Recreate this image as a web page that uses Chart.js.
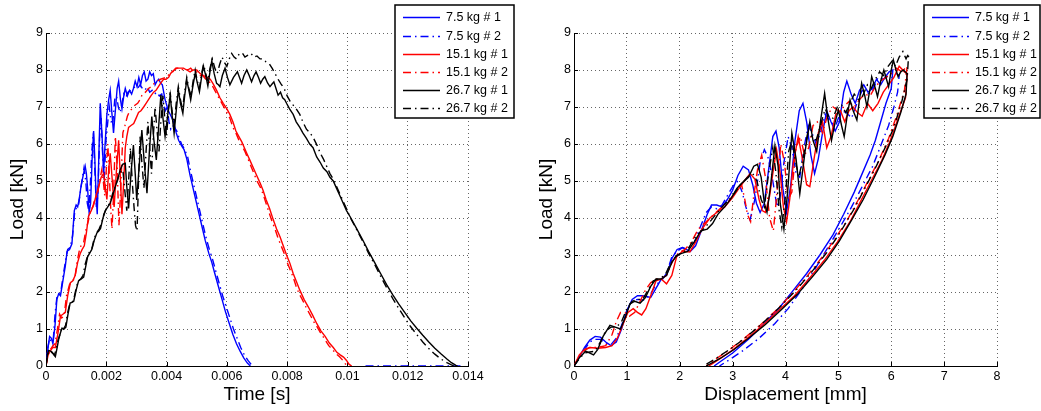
<!DOCTYPE html>
<html>
<head>
<meta charset="utf-8">
<script src="https://cdn.jsdelivr.net/npm/chart.js@4.4.1/dist/chart.umd.min.js"></script>
<style>
  body { margin: 0; background: #fff; }
  .wrap { display: flex; width: 1041px; height: 411px; }
  canvas { display: block; }
</style>
</head>
<body>
<div class="wrap">
  <canvas id="chartTime" width="520" height="411"></canvas>
  <canvas id="chartDisp" width="521" height="411"></canvas>
</div>
<script>
// tick positions
const timeTicks = [0, 0.002, 0.004, 0.006, 0.008, 0.01, 0.012, 0.014];
const dispTicks = [0, 1, 2, 3, 4, 5, 6, 7, 8];
const loadTicks = [0, 1, 2, 3, 4, 5, 6, 7, 8, 9];

const labels = ["7.5 kg # 1", "7.5 kg # 2", "15.1 kg # 1", "15.1 kg # 2", "26.7 kg # 1", "26.7 kg # 2"];
const colors = ["#0000ff", "#0000ff", "#ff0000", "#ff0000", "#000000", "#000000"];

// load vs time: [time in ms, load in kN]
const t75_1 = [[0,0],[0.06,0.45],[0.12,0.8],[0.18,0.75],[0.23,0.6],[0.3,1.1],[0.36,1.8],[0.42,1.95],[0.48,1.9],[0.56,2.3],[0.64,2.7],[0.7,3.1],[0.78,3.15],[0.86,3.3],[0.94,4.2],[1.0,4.35],[1.05,4.3],[1.1,4.5],[1.16,4.85],[1.22,5.1],[1.3,5.4],[1.34,5.2],[1.38,4.8],[1.43,4.15],[1.48,4.4],[1.53,5.6],[1.58,6.35],[1.62,5.6],[1.66,4.6],[1.7,4.1],[1.75,5.6],[1.8,7.1],[1.86,6.2],[1.91,5.2],[1.96,6.0],[2.02,6.8],[2.08,7.2],[2.13,7.45],[2.18,6.9],[2.24,6.3],[2.3,6.9],[2.36,7.5],[2.41,7.7],[2.47,7.2],[2.52,6.95],[2.58,7.3],[2.63,7.5],[2.7,7.3],[2.77,7.45],[2.84,7.35],[2.9,7.5],[2.96,7.7],[3.02,7.55],[3.08,7.8],[3.14,7.6],[3.2,7.85],[3.26,7.95],[3.32,7.7],[3.38,7.75],[3.44,7.95],[3.5,7.85],[3.56,7.9],[3.62,7.6],[3.68,7.7],[3.74,7.75],[3.8,7.65],[3.86,7.6],[3.95,7.2],[4.06,6.9],[4.15,6.75],[4.23,6.6],[4.32,6.3],[4.4,6.1],[4.5,5.95],[4.58,5.85],[4.67,5.6],[4.78,5.15],[4.88,4.8],[4.98,4.45],[5.08,4.1],[5.18,3.75],[5.28,3.4],[5.4,3.05],[5.5,2.8],[5.6,2.5],[5.72,2.15],[5.84,1.8],[5.96,1.45],[6.08,1.15],[6.2,0.85],[6.32,0.6],[6.44,0.4],[6.56,0.22],[6.68,0.08],[6.78,0]];
const t75_2 = [[0,0],[0.06,0.5],[0.12,0.75],[0.18,0.65],[0.24,0.7],[0.3,1.4],[0.36,1.85],[0.44,1.9],[0.5,2.05],[0.58,2.5],[0.66,2.9],[0.72,3.15],[0.8,3.2],[0.88,3.5],[0.95,4.15],[1.02,4.3],[1.08,4.35],[1.14,4.7],[1.2,5.05],[1.26,5.35],[1.32,5.0],[1.37,4.4],[1.42,4.2],[1.47,4.9],[1.52,5.8],[1.57,6.3],[1.62,5.3],[1.67,4.3],[1.72,4.6],[1.78,6.2],[1.83,6.7],[1.88,5.7],[1.93,5.0],[1.99,6.1],[2.05,6.6],[2.1,7.0],[2.16,6.6],[2.22,6.6],[2.28,7.2],[2.34,7.3],[2.4,7.0],[2.46,6.85],[2.52,7.1],[2.58,7.35],[2.65,7.25],[2.72,7.4],[2.8,7.45],[2.88,7.5],[2.96,7.55],[3.04,7.5],[3.12,7.6],[3.2,7.5],[3.28,7.45],[3.36,7.55],[3.44,7.4],[3.52,7.45],[3.6,7.35],[3.68,7.4],[3.76,7.3],[3.84,7.35],[3.9,7.1],[3.96,6.9],[4.02,7.0],[4.08,6.6],[4.14,6.4],[4.2,6.5],[4.26,6.45],[4.34,6.35],[4.42,6.15],[4.5,6.0],[4.6,5.85],[4.7,5.65],[4.8,5.25],[4.9,4.9],[5.0,4.55],[5.1,4.2],[5.2,3.85],[5.3,3.5],[5.42,3.15],[5.52,2.9],[5.62,2.6],[5.74,2.25],[5.86,1.9],[5.98,1.6],[6.1,1.3],[6.22,1.0],[6.34,0.75],[6.46,0.5],[6.58,0.3],[6.7,0.15],[6.8,0.05],[6.88,0],[8.5,null],[10.6,0],[13.75,0]];
const t151_1 = [[0,0],[0.07,0.3],[0.14,0.4],[0.22,0.5],[0.31,0.5],[0.4,0.9],[0.48,1.35],[0.56,1.4],[0.64,1.45],[0.72,1.9],[0.81,2.25],[0.89,2.3],[0.97,2.45],[1.05,2.8],[1.14,3.05],[1.2,3.15],[1.27,3.25],[1.34,3.6],[1.41,4.05],[1.5,4.2],[1.58,4.35],[1.66,4.6],[1.75,4.85],[1.83,5.1],[1.91,5.2],[1.97,4.8],[2.02,4.5],[2.08,5.3],[2.13,5.75],[2.2,5.0],[2.26,4.3],[2.33,5.2],[2.41,6.1],[2.46,5.2],[2.52,4.1],[2.58,5.0],[2.63,5.9],[2.68,6.2],[2.74,6.45],[2.82,6.5],[2.91,6.55],[2.99,6.7],[3.07,6.85],[3.15,6.9],[3.24,7.0],[3.32,7.1],[3.4,7.2],[3.48,7.3],[3.57,7.4],[3.65,7.45],[3.73,7.55],[3.81,7.65],[3.9,7.75],[3.98,7.75],[4.07,7.8],[4.13,7.9],[4.18,7.95],[4.26,8.0],[4.34,8.05],[4.45,8.05],[4.56,8.05],[4.67,8.0],[4.78,7.95],[4.89,8.0],[5.0,8.0],[5.12,7.9],[5.23,7.85],[5.34,7.8],[5.45,7.75],[5.55,7.62],[5.66,7.45],[5.77,7.25],[5.88,7.1],[6.0,6.95],[6.1,6.8],[6.2,6.6],[6.3,6.35],[6.4,6.2],[6.5,6.05],[6.58,5.9],[6.66,5.75],[6.77,5.55],[6.88,5.35],[6.99,5.15],[7.1,4.95],[7.2,4.75],[7.3,4.5],[7.42,4.25],[7.54,3.95],[7.65,3.7],[7.76,3.5],[7.87,3.25],[7.98,3.0],[8.09,2.78],[8.2,2.5],[8.31,2.28],[8.42,2.05],[8.56,1.8],[8.7,1.6],[8.84,1.38],[8.98,1.15],[9.12,0.95],[9.26,0.8],[9.4,0.62],[9.53,0.5],[9.65,0.37],[9.76,0.3],[9.87,0.24],[9.97,0.15],[10.05,0.05],[10.14,0]];
const t151_2 = [[0,0],[0.07,0.35],[0.15,0.45],[0.23,0.55],[0.3,0.6],[0.38,1.0],[0.45,1.4],[0.52,1.3],[0.6,1.35],[0.68,1.9],[0.78,2.2],[0.86,2.3],[0.95,2.35],[1.03,2.8],[1.1,3.1],[1.18,3.3],[1.25,3.35],[1.33,3.7],[1.4,3.9],[1.48,4.2],[1.55,4.3],[1.62,4.5],[1.7,4.6],[1.78,5.0],[1.85,5.3],[1.9,5.0],[1.95,4.6],[2.0,5.3],[2.05,6.0],[2.1,5.2],[2.15,4.2],[2.19,3.7],[2.24,4.6],[2.3,6.2],[2.36,5.4],[2.42,3.8],[2.48,4.8],[2.55,6.3],[2.62,6.5],[2.7,6.75],[2.78,6.9],[2.86,6.95],[2.95,7.05],[3.04,7.1],[3.12,7.2],[3.2,7.35],[3.3,7.4],[3.4,7.5],[3.5,7.55],[3.6,7.65],[3.7,7.7],[3.8,7.75],[3.9,7.78],[4.0,7.8],[4.1,7.9],[4.2,7.95],[4.3,8.05],[4.4,8.05],[4.5,8.0],[4.6,8.05],[4.7,8.0],[4.8,8.05],[4.9,7.95],[5.0,7.95],[5.1,7.85],[5.2,7.85],[5.3,7.75],[5.4,7.7],[5.5,7.6],[5.6,7.45],[5.7,7.3],[5.8,7.15],[5.9,7.0],[6.0,6.85],[6.1,6.7],[6.2,6.45],[6.3,6.3],[6.4,6.1],[6.5,5.95],[6.6,5.8],[6.7,5.6],[6.8,5.4],[6.9,5.2],[7.0,5.0],[7.1,4.85],[7.2,4.65],[7.3,4.4],[7.4,4.15],[7.5,3.9],[7.6,3.7],[7.7,3.45],[7.8,3.25],[7.9,3.05],[8.0,2.8],[8.1,2.6],[8.2,2.4],[8.3,2.15],[8.4,1.95],[8.5,1.8],[8.62,1.6],[8.75,1.4],[8.88,1.2],[9.0,1.05],[9.12,0.88],[9.25,0.72],[9.38,0.55],[9.5,0.45],[9.62,0.33],[9.74,0.25],[9.85,0.15],[9.93,0.06],[10.0,0]];
const t267_1 = [[0,0],[0.05,0.3],[0.09,0.42],[0.15,0.4],[0.2,0.38],[0.26,0.3],[0.31,0.25],[0.37,0.5],[0.42,0.72],[0.48,0.9],[0.53,1.02],[0.6,1.0],[0.66,1.05],[0.73,1.4],[0.8,1.7],[0.86,1.72],[0.92,1.75],[1.0,2.05],[1.08,2.3],[1.16,2.35],[1.25,2.4],[1.32,2.7],[1.38,2.95],[1.45,3.05],[1.52,3.15],[1.6,3.4],[1.69,3.6],[1.75,3.65],[1.81,3.72],[1.89,4.0],[1.97,4.2],[2.05,4.3],[2.13,4.4],[2.21,4.6],[2.3,4.85],[2.38,5.05],[2.46,5.3],[2.54,5.45],[2.63,5.48],[2.68,4.85],[2.74,4.26],[2.82,5.2],[2.9,5.97],[2.96,5.2],[3.01,4.49],[3.1,5.5],[3.18,6.38],[3.26,5.5],[3.35,4.67],[3.43,5.8],[3.51,6.74],[3.58,6.1],[3.66,5.57],[3.74,6.5],[3.81,7.32],[3.88,6.7],[3.95,6.2],[4.04,6.8],[4.12,7.32],[4.18,6.8],[4.25,6.29],[4.32,6.9],[4.39,7.46],[4.46,7.1],[4.54,6.83],[4.6,7.3],[4.67,7.73],[4.74,7.45],[4.8,7.19],[4.88,7.6],[4.95,7.91],[5.02,7.65],[5.09,7.41],[5.16,7.8],[5.22,8.11],[5.3,7.85],[5.37,7.57],[5.44,7.95],[5.5,8.25],[5.58,7.9],[5.66,7.64],[5.72,7.6],[5.77,7.55],[5.85,7.85],[5.94,8.05],[6.02,7.8],[6.1,7.6],[6.22,7.8],[6.35,7.95],[6.42,7.8],[6.49,7.64],[6.57,7.85],[6.66,8.0],[6.74,7.85],[6.82,7.68],[6.9,7.85],[6.97,7.95],[7.05,7.8],[7.12,7.64],[7.19,7.75],[7.26,7.82],[7.35,7.65],[7.43,7.55],[7.5,7.62],[7.56,7.68],[7.63,7.5],[7.7,7.32],[7.78,7.4],[7.85,7.25],[7.92,7.2],[7.98,7.1],[8.08,6.95],[8.2,6.8],[8.3,6.6],[8.42,6.45],[8.52,6.3],[8.64,6.15],[8.75,6.0],[8.86,5.9],[8.98,5.65],[9.1,5.5],[9.2,5.35],[9.32,5.25],[9.42,5.1],[9.53,5.0],[9.64,4.8],[9.75,4.6],[9.86,4.4],[9.97,4.2],[10.1,4.02],[10.3,3.72],[10.5,3.42],[10.7,3.1],[10.9,2.8],[11.1,2.5],[11.3,2.2],[11.5,1.93],[11.7,1.68],[11.9,1.45],[12.1,1.22],[12.3,1.02],[12.5,0.83],[12.7,0.65],[12.9,0.48],[13.1,0.33],[13.3,0.19],[13.45,0.09],[13.6,0.02],[13.65,0]];
const t267_2 = [[0,0],[0.05,0.3],[0.1,0.4],[0.16,0.38],[0.22,0.35],[0.28,0.3],[0.34,0.45],[0.4,0.7],[0.46,0.85],[0.52,1.05],[0.58,1.0],[0.65,1.1],[0.72,1.45],[0.78,1.65],[0.85,1.7],[0.92,1.8],[1.0,2.1],[1.07,2.3],[1.15,2.35],[1.23,2.45],[1.3,2.75],[1.37,2.95],[1.45,3.1],[1.53,3.2],[1.6,3.45],[1.68,3.6],[1.76,3.7],[1.84,3.85],[1.92,4.1],[2.0,4.25],[2.08,4.35],[2.16,4.5],[2.24,4.75],[2.32,4.9],[2.4,5.1],[2.48,5.25],[2.55,5.3],[2.62,4.7],[2.68,4.2],[2.74,5.0],[2.8,5.9],[2.86,5.0],[2.92,4.3],[2.97,3.8],[3.02,3.65],[3.07,5.0],[3.12,6.2],[3.18,5.5],[3.25,4.8],[3.32,5.8],[3.38,6.6],[3.44,5.9],[3.5,5.2],[3.56,6.2],[3.62,7.0],[3.68,6.4],[3.75,5.8],[3.81,6.6],[3.88,7.3],[3.94,6.7],[4.0,6.2],[4.06,6.9],[4.12,7.4],[4.18,6.9],[4.25,6.5],[4.32,7.1],[4.39,7.55],[4.46,7.2],[4.53,6.95],[4.6,7.4],[4.67,7.8],[4.74,7.5],[4.81,7.3],[4.88,7.7],[4.95,8.0],[5.02,7.7],[5.09,7.5],[5.16,7.9],[5.23,8.15],[5.3,7.9],[5.37,7.7],[5.44,8.05],[5.52,8.3],[5.6,8.05],[5.68,7.9],[5.76,8.15],[5.84,8.35],[5.92,8.2],[6.0,8.1],[6.08,8.3],[6.16,8.45],[6.24,8.35],[6.32,8.3],[6.42,8.45],[6.52,8.45],[6.6,8.35],[6.7,8.4],[6.8,8.45],[6.9,8.35],[7.0,8.38],[7.1,8.3],[7.2,8.3],[7.3,8.22],[7.4,8.18],[7.5,8.05],[7.6,7.9],[7.7,7.75],[7.8,7.62],[7.9,7.5],[8.0,7.3],[8.1,7.15],[8.2,7.05],[8.3,6.95],[8.42,6.8],[8.52,6.6],[8.64,6.4],[8.76,6.3],[8.88,6.15],[9.0,5.95],[9.1,5.75],[9.2,5.6],[9.31,5.4],[9.42,5.2],[9.53,5.05],[9.64,4.85],[9.75,4.65],[9.86,4.45],[9.97,4.25],[10.1,4.0],[10.3,3.7],[10.5,3.38],[10.7,3.05],[10.9,2.75],[11.1,2.43],[11.3,2.12],[11.5,1.83],[11.7,1.56],[11.9,1.3],[12.1,1.06],[12.3,0.85],[12.5,0.65],[12.7,0.47],[12.9,0.32],[13.1,0.19],[13.3,0.09],[13.45,0.03],[13.55,0]];

// load vs displacement: [displacement in mm, load in kN], loading then unloading
const d75_1 = [[0,0],[0.1,0.25],[0.2,0.5],[0.3,0.7],[0.4,0.8],[0.5,0.78],[0.6,0.65],[0.7,0.55],[0.8,0.65],[0.9,1.0],[1.0,1.5],[1.1,1.8],[1.2,1.9],[1.3,1.9],[1.45,1.85],[1.55,2.1],[1.65,2.35],[1.75,2.45],[1.85,2.9],[1.95,3.15],[2.05,3.2],[2.2,3.1],[2.3,3.25],[2.42,3.7],[2.52,4.1],[2.6,4.35],[2.7,4.35],[2.8,4.3],[2.9,4.5],[3.0,4.75],[3.1,5.15],[3.2,5.4],[3.3,5.3],[3.38,4.9],[3.45,4.4],[3.52,4.15],[3.6,4.4],[3.68,5.3],[3.76,6.2],[3.82,6.35],[3.88,5.9],[3.95,4.8],[4.02,4.15],[4.1,4.9],[4.18,6.1],[4.26,6.9],[4.33,7.1],[4.4,6.6],[4.48,5.7],[4.55,5.2],[4.62,5.6],[4.7,6.3],[4.78,6.9],[4.86,6.6],[4.94,6.35],[5.02,6.6],[5.1,7.4],[5.16,7.7],[5.24,7.35],[5.32,7.1],[5.4,7.45],[5.48,7.6],[5.56,7.4],[5.64,7.5],[5.72,7.75],[5.8,7.6],[5.88,7.8],[5.96,7.95],[6.03,8.0],[6.0,7.5],[5.9,7.1],[5.8,6.6],[5.7,6.1],[5.6,5.7],[5.45,5.2],[5.3,4.7],[5.1,4.1],[4.9,3.55],[4.65,3.0],[4.4,2.5],[4.15,2.05],[3.9,1.6],[3.6,1.15],[3.3,0.72],[3.0,0.35],[2.75,0.1],[2.65,0]];
const d75_2 = [[0,0],[0.1,0.22],[0.2,0.45],[0.3,0.65],[0.4,0.72],[0.5,0.72],[0.6,0.6],[0.7,0.58],[0.8,0.75],[0.9,1.1],[1.0,1.5],[1.1,1.75],[1.2,1.8],[1.32,1.78],[1.45,1.95],[1.55,2.2],[1.65,2.3],[1.75,2.5],[1.85,2.95],[1.95,3.1],[2.05,3.2],[2.15,3.15],[2.28,3.35],[2.4,3.8],[2.5,4.15],[2.6,4.3],[2.7,4.25],[2.8,4.35],[2.9,4.6],[3.0,4.85],[3.1,5.0],[3.18,4.7],[3.25,4.3],[3.33,3.95],[3.42,4.5],[3.52,5.5],[3.6,5.85],[3.68,5.6],[3.76,5.0],[3.84,4.3],[3.9,4.6],[3.97,5.5],[4.05,6.2],[4.12,5.9],[4.2,5.2],[4.27,5.1],[4.35,5.9],[4.43,6.5],[4.5,6.3],[4.58,6.0],[4.66,6.3],[4.75,6.8],[4.85,6.6],[4.95,6.5],[5.05,6.9],[5.15,6.85],[5.25,6.7],[5.35,7.1],[5.45,7.45],[5.55,7.35],[5.65,7.45],[5.75,7.8],[5.85,7.75],[5.95,7.85],[6.05,7.95],[6.15,7.85],[6.12,7.4],[6.05,7.0],[5.95,6.5],[5.8,5.95],[5.65,5.4],[5.45,4.85],[5.25,4.3],[5.05,3.8],[4.8,3.2],[4.55,2.6],[4.3,2.05],[4.05,1.55],[3.8,1.15],[3.5,0.75],[3.2,0.42],[2.95,0.18],[2.75,0]];
const d151_1 = [[0,0],[0.1,0.3],[0.2,0.45],[0.3,0.5],[0.45,0.48],[0.6,0.5],[0.72,0.55],[0.82,0.75],[0.92,1.1],[1.02,1.45],[1.12,1.55],[1.2,1.45],[1.28,1.38],[1.36,1.55],[1.45,1.9],[1.55,2.3],[1.65,2.35],[1.75,2.22],[1.85,2.45],[1.94,2.95],[2.05,3.1],[2.19,3.08],[2.3,3.35],[2.42,3.7],[2.57,4.0],[2.7,4.15],[2.85,4.3],[3.0,4.55],[3.12,4.8],[3.22,5.0],[3.33,5.2],[3.42,5.05],[3.5,4.5],[3.56,4.2],[3.62,4.15],[3.7,4.6],[3.77,5.3],[3.83,5.85],[3.9,5.2],[3.96,4.3],[4.02,3.9],[4.08,4.5],[4.15,5.5],[4.24,6.2],[4.32,5.6],[4.4,4.9],[4.46,4.85],[4.54,5.6],[4.62,6.3],[4.7,6.6],[4.78,5.9],[4.86,6.2],[4.95,6.8],[5.04,6.9],[5.12,6.6],[5.2,6.9],[5.28,7.0],[5.36,6.85],[5.45,6.75],[5.55,7.1],[5.65,6.9],[5.75,7.1],[5.85,7.4],[5.95,7.6],[6.05,7.8],[6.15,8.1],[6.25,7.95],[6.3,7.9],[6.27,7.25],[6.12,6.65],[5.97,6.05],[5.82,5.55],[5.62,5.0],[5.42,4.45],[5.22,3.9],[4.98,3.35],[4.73,2.85],[4.47,2.4],[4.17,1.9],[3.87,1.5],[3.57,1.1],[3.27,0.74],[2.97,0.4],[2.72,0.16],[2.55,0]];
const d151_2 = [[0,0],[0.1,0.25],[0.2,0.42],[0.3,0.5],[0.45,0.5],[0.6,0.55],[0.72,0.85],[0.8,1.2],[0.88,1.45],[0.96,1.45],[1.05,1.35],[1.15,1.45],[1.25,1.75],[1.35,2.05],[1.45,2.25],[1.55,2.35],[1.65,2.35],[1.75,2.45],[1.87,2.85],[1.97,3.05],[2.1,3.15],[2.22,3.35],[2.35,3.7],[2.5,3.9],[2.65,4.1],[2.8,4.3],[2.95,4.5],[3.08,4.75],[3.17,4.9],[3.23,4.5],[3.28,4.1],[3.34,3.9],[3.4,4.6],[3.47,5.3],[3.55,5.7],[3.62,5.1],[3.7,4.0],[3.77,3.65],[3.84,4.7],[3.91,6.0],[3.98,5.5],[4.05,4.5],[4.12,4.7],[4.2,5.9],[4.28,6.2],[4.36,5.7],[4.44,5.9],[4.52,6.5],[4.6,6.6],[4.7,6.3],[4.8,6.8],[4.9,7.0],[5.0,6.9],[5.1,7.0],[5.2,7.15],[5.3,7.0],[5.4,7.2],[5.5,7.35],[5.6,7.3],[5.7,7.55],[5.8,7.7],[5.9,7.8],[6.0,7.9],[6.1,8.05],[6.2,7.95],[6.3,8.1],[6.25,7.45],[6.1,6.75],[5.95,6.15],[5.78,5.6],[5.58,5.05],[5.38,4.5],[5.17,3.95],[4.92,3.4],[4.67,2.9],[4.42,2.45],[4.12,1.95],[3.82,1.5],[3.52,1.1],[3.22,0.75],[2.92,0.42],[2.67,0.18],[2.5,0]];
const d267_1 = [[0,0],[0.1,0.22],[0.22,0.4],[0.3,0.35],[0.37,0.3],[0.45,0.45],[0.55,0.8],[0.68,1.1],[0.78,1.05],[0.88,1.0],[0.98,1.35],[1.06,1.68],[1.15,1.75],[1.25,1.7],[1.35,1.85],[1.45,2.15],[1.55,2.35],[1.65,2.35],[1.75,2.45],[1.85,2.8],[1.95,3.0],[2.05,3.05],[2.15,3.1],[2.27,3.35],[2.4,3.65],[2.52,3.7],[2.62,3.85],[2.72,4.1],[2.85,4.3],[2.98,4.55],[3.08,4.8],[3.18,4.95],[3.3,5.1],[3.4,5.4],[3.47,5.45],[3.54,5.1],[3.6,4.4],[3.65,4.15],[3.72,4.9],[3.8,5.95],[3.86,5.4],[3.9,4.4],[3.97,3.7],[4.04,4.7],[4.12,6.3],[4.2,5.6],[4.27,4.65],[4.37,5.8],[4.46,6.6],[4.52,6.1],[4.59,5.8],[4.66,6.6],[4.74,7.37],[4.8,6.7],[4.87,6.1],[4.94,6.6],[5.0,6.92],[5.06,6.5],[5.11,6.2],[5.17,6.8],[5.22,7.19],[5.28,6.9],[5.35,6.65],[5.4,7.2],[5.44,7.64],[5.5,7.3],[5.54,7.01],[5.6,7.5],[5.63,7.82],[5.7,7.5],[5.74,7.28],[5.8,7.7],[5.86,8.0],[5.91,7.75],[5.95,7.55],[6.0,8.0],[6.04,8.27],[6.09,8.0],[6.13,7.82],[6.18,7.95],[6.23,8.0],[6.3,7.9],[6.28,7.35],[6.18,6.85],[6.03,6.2],[5.88,5.7],[5.68,5.1],[5.47,4.5],[5.26,3.97],[5.02,3.38],[4.78,2.88],[4.52,2.43],[4.22,1.93],[3.92,1.52],[3.62,1.12],[3.32,0.77],[3.02,0.44],[2.77,0.21],[2.5,0]];
const d267_2 = [[0,0],[0.1,0.2],[0.2,0.35],[0.3,0.38],[0.4,0.4],[0.5,0.65],[0.6,0.95],[0.7,1.05],[0.8,1.05],[0.9,1.2],[1.0,1.55],[1.1,1.75],[1.2,1.8],[1.3,1.8],[1.4,2.05],[1.5,2.3],[1.6,2.35],[1.72,2.45],[1.82,2.75],[1.92,2.95],[2.02,3.05],[2.15,3.15],[2.3,3.5],[2.45,3.7],[2.6,3.95],[2.8,4.3],[3.0,4.6],[3.15,4.9],[3.28,5.1],[3.38,5.2],[3.46,5.0],[3.54,4.5],[3.6,4.3],[3.68,5.2],[3.76,5.9],[3.82,5.2],[3.88,4.2],[3.93,3.75],[4.0,4.6],[4.06,5.8],[4.12,6.1],[4.18,5.6],[4.25,5.1],[4.33,5.6],[4.42,6.3],[4.5,6.2],[4.58,6.1],[4.66,6.5],[4.75,6.95],[4.83,6.7],[4.9,6.7],[4.98,7.0],[5.06,7.05],[5.14,6.85],[5.22,7.1],[5.3,7.35],[5.38,7.2],[5.46,7.3],[5.55,7.6],[5.62,7.5],[5.7,7.75],[5.78,7.95],[5.86,7.85],[5.94,8.1],[6.02,8.25],[6.08,8.1],[6.15,8.35],[6.22,8.5],[6.28,8.3],[6.33,8.45],[6.3,7.75],[6.2,7.15],[6.05,6.45],[5.9,5.95],[5.7,5.35],[5.5,4.8],[5.3,4.25],[5.05,3.65],[4.8,3.1],[4.5,2.55],[4.2,2.05],[3.9,1.6],[3.6,1.2],[3.3,0.83],[3.0,0.5],[2.7,0.22],[2.45,0]];

const timeSeries = [t75_1, t75_2, t151_1, t151_2, t267_1, t267_2];
const dispSeries = [d75_1, d75_2, d151_1, d151_2, d267_1, d267_2];

const FONT = '"Liberation Sans", Arial, Helvetica, sans-serif';
Chart.defaults.font.family = FONT;
Chart.defaults.color = "#000";

const LINE_W = 1.4;
const DASH_DOT = [8, 4, 1.5, 4];

// MATLAB-style boxed legend in the top right corner
const boxLegend = {
    id: "boxLegend",
    afterDraw(chart, args, o) {
        const ctx = chart.ctx;
        ctx.save();
        ctx.fillStyle = "#fff";
        ctx.fillRect(o.left, o.top, o.width, o.height);
        ctx.lineWidth = 1.5;
        ctx.strokeStyle = "#000";
        ctx.strokeRect(o.left, o.top, o.width, o.height);
        ctx.font = "12.5px " + FONT;
        ctx.textBaseline = "middle";
        labels.forEach((text, i) => {
            const y = Math.round(o.top + 12.3 + i * 18.2) + 0.5;
            ctx.beginPath();
            ctx.setLineDash(i % 2 ? DASH_DOT : []);
            ctx.strokeStyle = colors[i];
            ctx.lineWidth = LINE_W;
            ctx.moveTo(o.left + 8, y);
            ctx.lineTo(o.left + 45, y);
            ctx.stroke();
            ctx.setLineDash([]);
            ctx.fillStyle = "#000";
            ctx.fillText(text, o.left + 51, y + 0.5);
        });
        ctx.restore();
    },
};

// short tick marks pointing into the plot area
const innerTicks = {
    id: "innerTicks",
    beforeDatasetsDraw(chart) {
        const { ctx, chartArea: a, scales: { x, y } } = chart;
        ctx.save();
        ctx.strokeStyle = "#000";
        ctx.lineWidth = 1;
        ctx.beginPath();
        x.ticks.forEach(t => {
            const px = Math.round(x.getPixelForValue(t.value)) + 0.5;
            ctx.moveTo(px, a.bottom);
            ctx.lineTo(px, a.bottom - 4);
        });
        y.ticks.forEach(t => {
            const py = Math.round(y.getPixelForValue(t.value)) + 0.5;
            ctx.moveTo(a.left, py);
            ctx.lineTo(a.left + 4, py);
        });
        ctx.stroke();
        ctx.restore();
    },
};

function makeDatasets(series, xScale) {
    return series.map((arr, i) => ({
        label: labels[i],
        data: arr.map(([x, y]) => ({ x: x * xScale, y })),
        borderColor: colors[i],
        backgroundColor: colors[i],
        borderWidth: LINE_W,
        borderDash: i % 2 ? DASH_DOT : [],
        pointRadius: 0,
        showLine: true,
        tension: 0,
        spanGaps: false,
        order: series.length - i,
    }));
}

function axis(min, max, ticks, title, titlePad, extra) {
    return {
        type: "linear", min, max,
        afterBuildTicks: s => { s.ticks = ticks.map(v => ({ value: v })); },
        ticks: { autoSkip: false, maxRotation: 0, font: { size: 12.5 }, color: "#000", callback: v => String(v) },
        grid: { color: "rgba(0,0,0,0.6)", lineWidth: 1, drawTicks: false },
        border: { display: true, color: "#000", width: 1, dash: [1, 3] },
        title: { display: true, text: title, font: { size: 19 }, color: "#000", padding: titlePad },
        ...extra,
    };
}

function renderPanel(id, series, xScale, xTicks, xMax, xTitle, yAxisWidth, yTitlePad, padRight, legendBox) {
    new Chart(document.getElementById(id), {
        type: "scatter",
        data: { datasets: makeDatasets(series, xScale) },
        options: {
            responsive: false, animation: false, events: [],
            layout: { padding: { left: 0, top: 33, right: padRight, bottom: 0 } },
            scales: {
                x: axis(0, xMax, xTicks, xTitle, { top: 0, bottom: 5 }, {
                    afterFit: s => { s.height = 45; },
                }),
                y: axis(0, 9, loadTicks, "Load [kN]", { top: yTitlePad, bottom: 0 }, {
                    afterFit: s => { s.width = yAxisWidth; },
                }),
            },
            plugins: { legend: { display: false }, tooltip: { enabled: false }, boxLegend: legendBox },
        },
        plugins: [innerTicks, boxLegend],
    });
}

renderPanel("chartTime", timeSeries, 0.001, timeTicks, 0.014, "Time [s]", 46, 6, 52,
    { left: 395, top: 5, width: 119, height: 113 });
renderPanel("chartDisp", dispSeries, 1, dispTicks, 8, "Displacement [mm]", 54, 15, 44,
    { left: 404, top: 5, width: 116, height: 113 });
</script>
</body>
</html>
